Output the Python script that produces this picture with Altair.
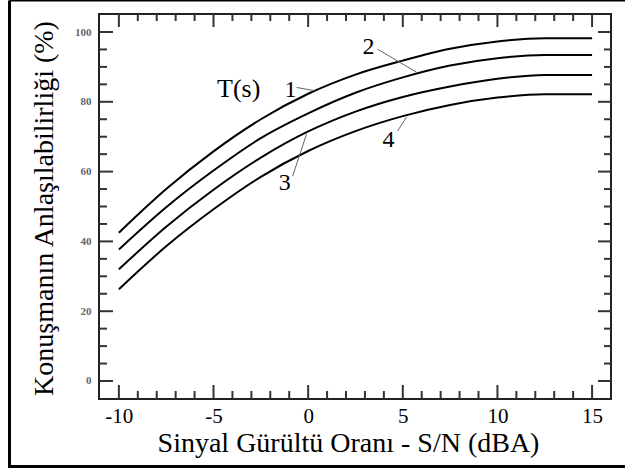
import altair as alt
import pandas as pd

# ---- data ----
sn = [-10, -7.5, -5, -2.5, 0, 2.5, 5, 7.5, 10, 12.5, 15]
curve1 = [42.5, 55.0, 65.8, 75.0, 82.3, 87.8, 91.8, 95.2, 97.3, 98.2, 98.2]
curve2 = [37.7, 49.8, 60.3, 69.6, 76.7, 82.6, 87.0, 90.4, 92.5, 93.4, 93.4]
curve3 = [32.0, 44.2, 54.8, 64.0, 71.5, 77.2, 81.4, 84.4, 86.6, 87.7, 87.7]
curve4 = [26.3, 38.6, 49.2, 58.5, 65.9, 71.6, 75.9, 79.1, 81.2, 82.2, 82.2]

x_ticks_major = [-10, -5, 0, 5, 10, 15]
x_ticks_minor = [v for v in range(-10, 16) if v % 5 != 0]
y_ticks_major = [0, 20, 40, 60, 80, 100]
y_ticks_minor = [v for v in range(0, 101, 5) if v % 20 != 0]

label_text = ["1", "2", "3", "4"]
label_x = [-0.93, 3.19, -1.24, 4.24]
label_y = [83.4, 95.7, 56.7, 69.0]
leader_x = [-0.61, 3.66, -0.82, 4.72]
leader_y = [84.1, 95.1, 58.7, 71.6]
leader_x2 = [0.34, 5.72, -0.08, 5.19]
leader_y2 = [83.2, 88.5, 70.8, 75.6]
title_label = "T(s)"
title_label_x = -3.67
title_label_y = 83.7

x_title = "Sinyal Gürültü Oranı - S/N (dBA)"
y_title = "Konuşmanın Anlaşılabilirliği (%)"

W, H = 512, 385
SERIF = "Liberation Serif"

# ---- tables ----
curves = pd.DataFrame(
    [{"x": x, "y": y, "s": name}
     for name, ys in [("1", curve1), ("2", curve2), ("3", curve3), ("4", curve4)]
     for x, y in zip(sn, ys)]
)
labels = pd.DataFrame({"x": label_x, "y": label_y, "t": label_text})
leaders = pd.DataFrame({"x": leader_x, "y": leader_y, "x2": leader_x2, "y2": leader_y2})
tlabel = pd.DataFrame({"x": [title_label_x], "y": [title_label_y], "t": [title_label]})

xscale = alt.Scale(domain=[-11.05, 16], nice=False, zero=False)
yscale = alt.Scale(domain=[-5.16, 105.16], nice=False, zero=False)

xaxis = alt.Axis(values=x_ticks_major, ticks=False, tickSize=0, domain=False, grid=False,
                 labelExpr="'' + datum.value",
                 labelFont=SERIF, labelFontSize=21, labelColor="black", labelPadding=6,
                 titleFont=SERIF, titleFontSize=28, titleFontWeight="normal", titleColor="black",
                 titleBaseline="alphabetic", titleY=52, titleX=249, labelFlush=False)
yaxis = alt.Axis(values=y_ticks_major, ticks=False, tickSize=0, domain=False, grid=False,
                 labelFont=SERIF, labelFontSize=11, labelFontWeight="bold", labelColor="#666",
                 labelPadding=8, labelFlush=False,
                 titleFont=SERIF, titleFontSize=28, titleFontWeight="normal", titleColor="black",
                 titleBaseline="alphabetic", titleX=-47, titleY=194, titleAngle=-90)


def X(f="x"):
    return alt.X(f"{f}:Q", scale=xscale, axis=xaxis, title=x_title)


def Y(f="y"):
    return alt.Y(f"{f}:Q", scale=yscale, axis=yaxis, title=y_title)


lines = alt.Chart(curves).mark_line(color="black", strokeWidth=2, interpolate="monotone").encode(
    x=X(), y=Y(), detail="s:N"
)

leader_rules = alt.Chart(leaders).mark_rule(color="#666", strokeWidth=1).encode(
    x=X(), y=Y(), x2="x2:Q", y2="y2:Q"
)

num_text = alt.Chart(labels).mark_text(font=SERIF, fontSize=24, color="black").encode(
    x=X(), y=Y(), text="t:N"
)

t_text = alt.Chart(tlabel).mark_text(font=SERIF, fontSize=26, color="black").encode(
    x=X(), y=Y(), text="t:N"
)

TICK_C = "#333"


def xticks(vals, y0, y1):
    return alt.Chart(pd.DataFrame({"x": vals})).mark_rule(color=TICK_C, strokeWidth=2).encode(
        x=X(), y=alt.value(y0), y2=alt.value(y1)
    )


def yticks(vals, x0, x1):
    return alt.Chart(pd.DataFrame({"y": vals})).mark_rule(color=TICK_C, strokeWidth=2).encode(
        y=Y(), x=alt.value(x0), x2=alt.value(x1)
    )


tick_layers = [
    xticks(x_ticks_major, H, H - 14), xticks(x_ticks_minor, H, H - 8),
    xticks(x_ticks_major, 0, 13), xticks(x_ticks_minor, 0, 7),
    yticks(y_ticks_major, 0, 14), yticks(y_ticks_minor, 0, 8),
    yticks(y_ticks_major, W, W - 13), yticks(y_ticks_minor, W, W - 7),
]

one = pd.DataFrame({"a": [0]})
LEFT, RIGHT, TOP, BOTTOM = 9.5 - 99, 625 - 99, 0.5 - 14, 466.5 - 14
frame_left = alt.Chart(one).mark_rule(color="black", strokeWidth=3).encode(
    x=alt.value(LEFT), y=alt.value(TOP), y2=alt.value(BOTTOM + 1.5))
frame_top = alt.Chart(one).mark_rule(color="black", strokeWidth=2).encode(
    y=alt.value(TOP), x=alt.value(LEFT), x2=alt.value(RIGHT))
frame_bottom = alt.Chart(one).mark_rule(color="black", strokeWidth=3).encode(
    y=alt.value(BOTTOM), x=alt.value(LEFT), x2=alt.value(RIGHT))

chart = alt.layer(lines, *tick_layers, leader_rules, num_text, t_text,
                  frame_left, frame_top, frame_bottom).properties(
    width=W, height=H,
    padding={"left": 99, "top": 14, "right": 14, "bottom": 71},
    autosize=alt.AutoSizeParams(type="none"),
    background="white",
).configure_view(stroke="#222", strokeWidth=2)

chart.save("out.html", embed_options={"renderer": "svg", "actions": False})
